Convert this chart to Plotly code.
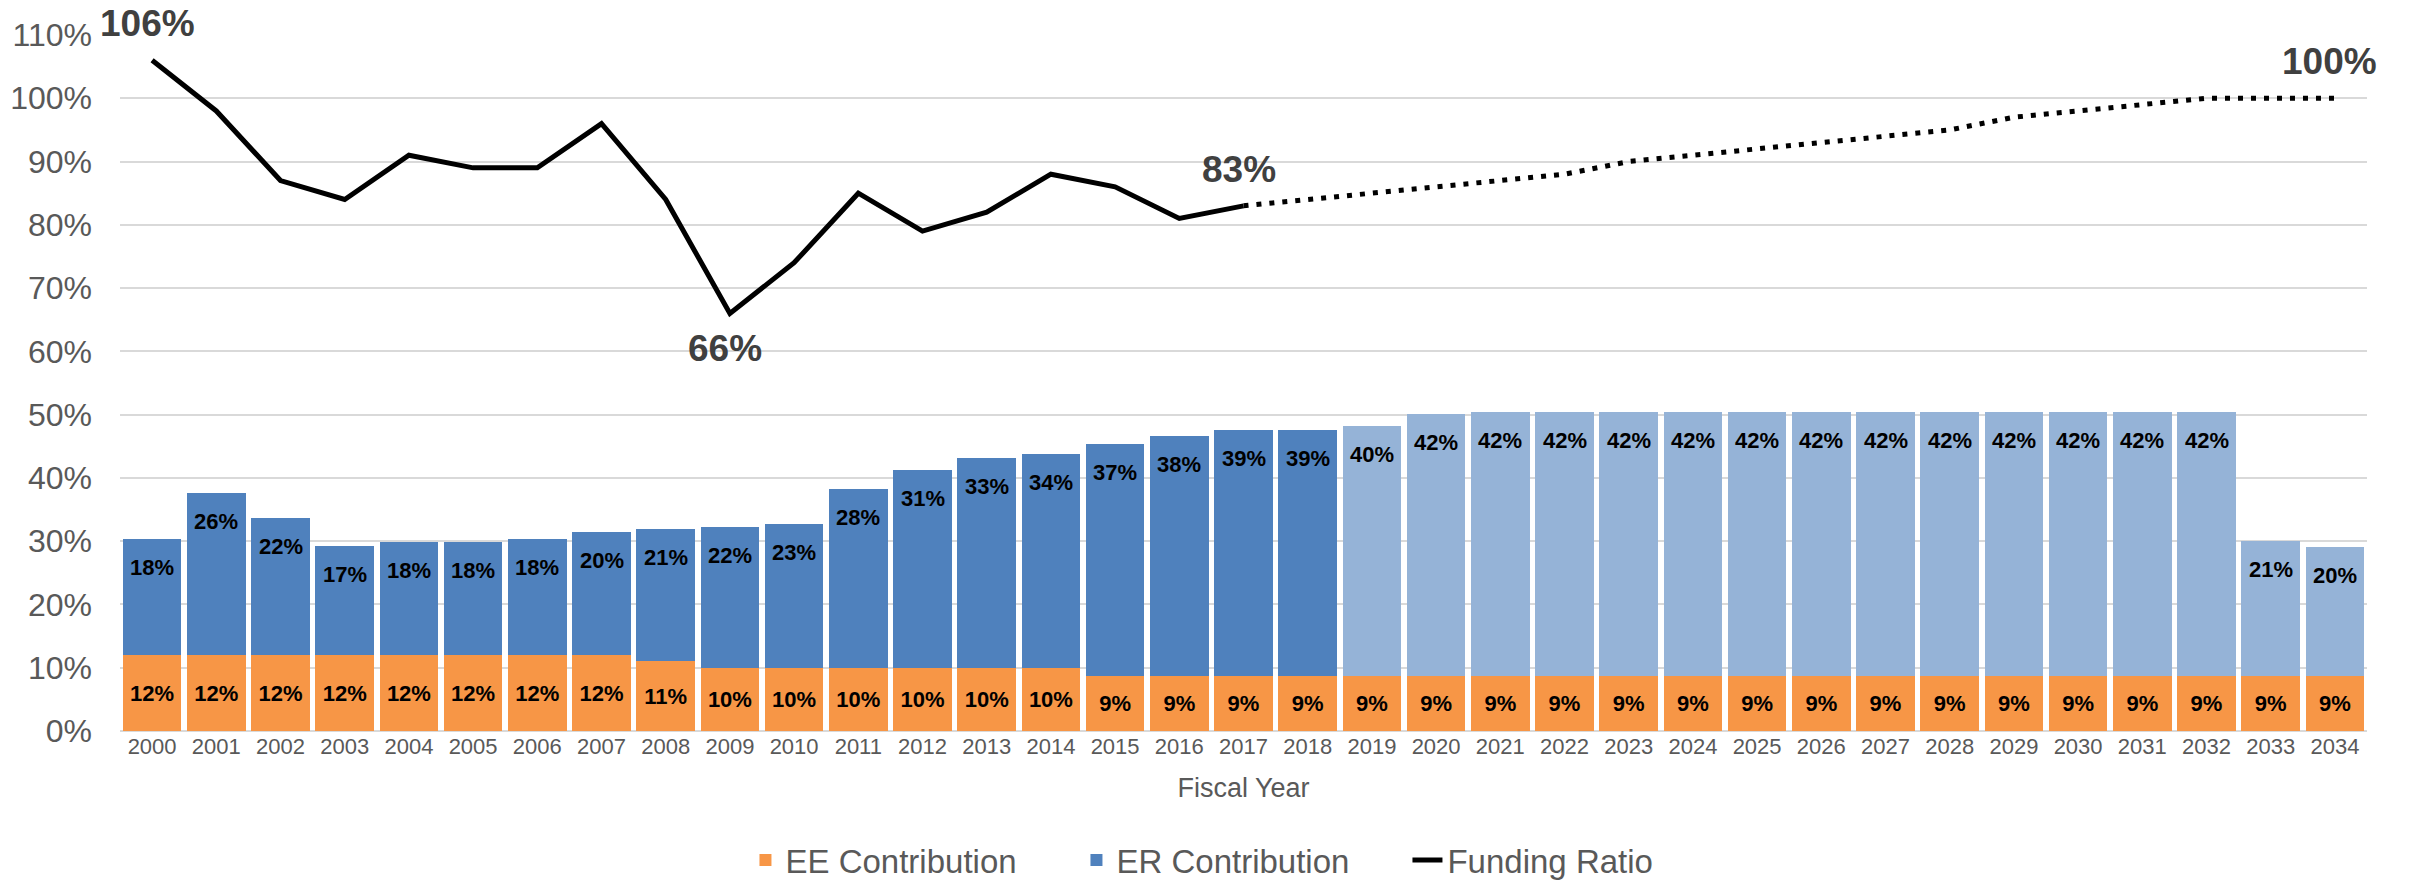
import plotly.graph_objects as go

years = list(range(2000, 2035))

# employee contribution rate (share of payroll)
ee_rate = [0.12] * 8 + [0.11] + [0.10] * 6 + [0.0865] * 20
# employer contribution rate
er_rate = [0.184, 0.256, 0.217, 0.173, 0.179, 0.179, 0.184, 0.195, 0.209, 0.223,
           0.227, 0.282, 0.312, 0.331, 0.338, 0.3675, 0.379, 0.389, 0.389, 0.396,
           0.415, 0.418, 0.418, 0.418, 0.418, 0.418, 0.418, 0.418, 0.418, 0.418,
           0.418, 0.418, 0.418, 0.2135, 0.204]
last_actual = 2018

fr_years = years[:18]
fr_actual = [1.06, 0.98, 0.87, 0.84, 0.91, 0.89, 0.89, 0.96, 0.84, 0.66,
             0.74, 0.85, 0.79, 0.82, 0.88, 0.86, 0.81, 0.83]
proj_years = years[17:]
fr_proj = [0.83, 0.84, 0.85, 0.86, 0.87, 0.88, 0.90, 0.91, 0.92, 0.93,
           0.94, 0.95, 0.97, 0.98, 0.99, 1.00, 1.00, 1.00]

callouts = [(2000, 1.06, "top"), (2009, 0.66, "bottom"),
            (2017, 0.83, "top"), (2034, 1.00, "top")]

FONT = "Liberation Sans, Arial, sans-serif"
GREY = "#595959"
er_colors = ["#4F81BD" if y <= last_actual else "#95B3D7" for y in years]

fig = go.Figure()
fig.add_trace(go.Bar(
    x=years, y=ee_rate, name="EE Contribution",
    marker=dict(color="#F79646", line=dict(width=0)),
    texttemplate="<b>%{y:.0%}</b>", textposition="inside",
    insidetextanchor="middle", textangle=0,
    textfont=dict(family=FONT, size=22, color="black"),
))
fig.add_trace(go.Bar(
    x=years, y=er_rate, name="ER Contribution",
    marker=dict(color=er_colors, line=dict(width=0)),
))
fig.add_trace(go.Scatter(
    x=fr_years, y=fr_actual, name="Funding Ratio", mode="lines",
    line=dict(color="black", width=5),
))
fig.add_trace(go.Scatter(
    x=proj_years, y=fr_proj, showlegend=False, mode="lines",
    line=dict(color="black", width=5, dash="5px,8px"),
))

# ER labels sit just inside the top of each bar
for yr, ee, er in zip(years, ee_rate, er_rate):
    fig.add_annotation(
        x=yr, y=ee + er, text=f"<b>{er:.0%}</b>", showarrow=False,
        yanchor="top", yshift=-14,
        font=dict(family=FONT, size=22, color="black"),
    )

for yr, val, side in callouts:
    fig.add_annotation(
        x=yr, y=val, text=f"<b>{val:.0%}</b>", showarrow=False,
        xshift=-5,
        yanchor="bottom" if side == "top" else "top",
        yshift=14 if side == "top" else -13,
        font=dict(family=FONT, size=37, color="#404040"),
    )

# the page body adds an 8px offset, so margins are set 8px short on top/left
fig.update_layout(
    width=2410, height=882,
    barmode="stack", bargap=0.09,
    plot_bgcolor="white", paper_bgcolor="white",
    margin=dict(l=112, r=51, t=27, b=159),
    font=dict(family=FONT, color=GREY),
    legend=dict(
        orientation="h", xref="container", x=0.306, xanchor="left",
        yref="container", y=0.034, yanchor="middle",
        font=dict(family=FONT, size=33, color=GREY),
        traceorder="normal", entrywidth=286, entrywidthmode="pixels",
    ),
    xaxis=dict(
        range=[1999.5, 2034.5], tickmode="linear", tick0=2000, dtick=1,
        tickfont=dict(size=22, color=GREY), showgrid=False,
        showline=False, ticks="", tickangle=0, zeroline=False,
        title=dict(text="Fiscal Year", font=dict(size=27, color=GREY), standoff=20),
    ),
    yaxis=dict(
        range=[0, 1.1], dtick=0.1, tickformat=".0%",
        tickfont=dict(size=32, color=GREY), automargin=False,
        gridcolor="#D9D9D9", gridwidth=2, zeroline=True,
        zerolinecolor="#D9D9D9", zerolinewidth=2,
        ticklabelstandoff=27,
    ),
)

fig.write_html("out.html")
